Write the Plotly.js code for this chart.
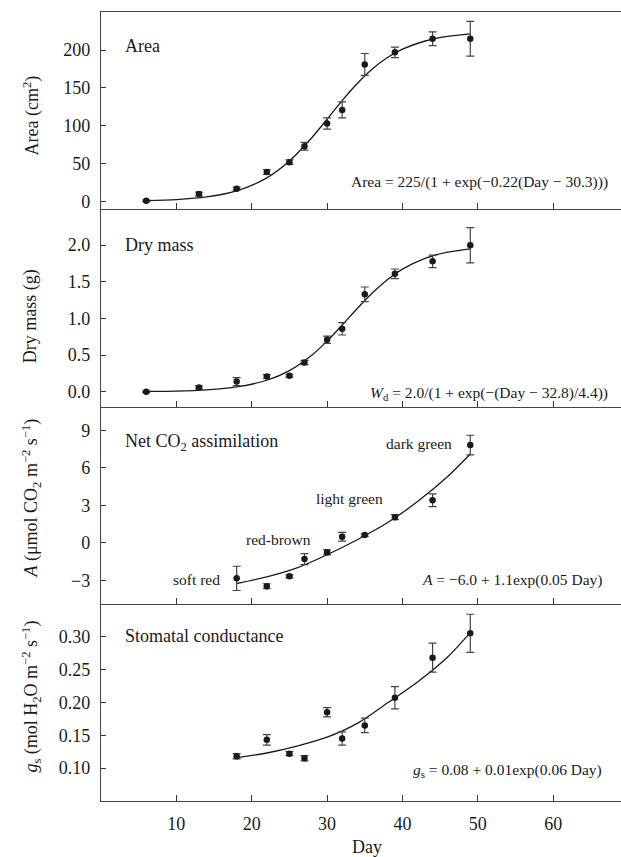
<!DOCTYPE html>
<html>
<head>
<meta charset="utf-8">
<script src="https://cdn.plot.ly/plotly-3.0.1.min.js"></script>
<style>
  html, body { margin: 0; padding: 0; background: #fff; }
  #chart { width: 621px; height: 857px; }
</style>
</head>
<body>
<div id="chart"></div>
<script>
// ---- data ----
const days = [6, 13, 18, 22, 25, 27, 30, 32, 35, 39, 44, 49];
const area = [1, 10, 17, 39, 52, 73, 103, 121, 181, 197, 215, 215];
const areaErr = [1, 2.5, 2, 3.3, 3, 5, 7.5, 10.5, 14.5, 7, 9, 23];
const dryMass = [0.0, 0.06, 0.14, 0.21, 0.22, 0.40, 0.71, 0.86, 1.33, 1.61, 1.78, 2.00];
const dryMassErr = [0.01, 0.02, 0.055, 0.025, 0.02, 0.03, 0.05, 0.085, 0.1, 0.065, 0.085, 0.24];

const daysGas = [18, 22, 25, 27, 30, 32, 35, 39, 44, 49];
const netA = [-2.84, -3.47, -2.68, -1.3, -0.76, 0.48, 0.62, 2.05, 3.4, 7.82];
const netAErr = [0.97, 0.2, 0.12, 0.44, 0.2, 0.35, 0.1, 0.2, 0.51, 0.78];
const gs = [0.118, 0.143, 0.122, 0.115, 0.185, 0.145, 0.165, 0.207, 0.268, 0.305];
const gsErr = [0.004, 0.008, 0.003, 0.004, 0.007, 0.010, 0.011, 0.017, 0.022, 0.029];

// fitted curves
const fitDays = [6, 10, 14, 18, 22, 25, 28, 30, 32, 34, 36, 38, 40, 43, 46, 49];
const areaFit = [1.1, 2.6, 6.1, 14.1, 31.2, 53.5, 84.6, 108.8, 133.3, 155.9, 175.1, 190.1, 201.2, 212.0, 218.1, 221.4];
const dryMassFit = [0.005, 0.011, 0.028, 0.067, 0.158, 0.29, 0.503, 0.692, 0.909, 1.136, 1.348, 1.53, 1.673, 1.821, 1.905, 1.951];
const fitDaysGas = [18, 22, 26, 30, 34, 38, 42, 46, 49];
const netAFit = [-3.25, -2.72, -2.0, -0.95, 0.25, 1.6, 3.3, 5.3, 7.1];
const gsFit = [0.116, 0.123, 0.1335, 0.147, 0.168, 0.199, 0.231, 0.269, 0.306];

// tick labels
const dayTicks = [10, 20, 30, 40, 50, 60];
const areaTicks = [0, 50, 100, 150, 200];
const dryTicks = [0, 0.5, 1.0, 1.5, 2.0];
const netTicks = [-3, 0, 3, 6, 9];
const gsTicks = [0.10, 0.15, 0.20, 0.25, 0.30];

// ---- drawing ----
const FONT = 'Liberation Serif, Times New Roman, serif';
const INK = '#1a1a1a';

function curve(x, y, n) {
  return { x: x, y: y, xaxis: 'x' + (n === 1 ? '' : n), yaxis: 'y' + (n === 1 ? '' : n),
    type: 'scatter', mode: 'lines', line: { color: INK, width: 1.3, shape: 'spline', smoothing: 0.8 },
    hoverinfo: 'skip', showlegend: false };
}
function pts(x, y, e, n) {
  return { x: x, y: y, xaxis: 'x' + (n === 1 ? '' : n), yaxis: 'y' + (n === 1 ? '' : n),
    type: 'scatter', mode: 'markers', marker: { color: INK, size: 6.5 },
    error_y: { type: 'data', array: e, visible: true, color: '#444', thickness: 1.2, width: 4 },
    showlegend: false };
}

const data = [
  curve(fitDays, areaFit, 1), pts(days, area, areaErr, 1),
  curve(fitDays, dryMassFit, 2), pts(days, dryMass, dryMassErr, 2),
  curve(fitDaysGas, netAFit, 3), pts(daysGas, netA, netAErr, 3),
  curve(fitDaysGas, gsFit, 4), pts(daysGas, gs, gsErr, 4)
];

function xax(anchor, labels, extra) {
  return Object.assign({
    anchor: anchor, range: [0, 69], tickvals: dayTicks, ticks: 'inside', ticklen: 6,
    tickcolor: '#333', tickwidth: 1, showline: true, linecolor: '#444', linewidth: 1.2,
    showgrid: false, zeroline: false, showticklabels: labels, ticklabelstandoff: 6,
    tickfont: { family: FONT, size: 18, color: INK }, fixedrange: true
  }, extra || {});
}
function yax(anchor, domain, range, ticks, fmt) {
  return {
    anchor: anchor, domain: domain, range: range, tickvals: ticks, tickformat: fmt,
    ticks: 'inside', ticklen: 5, tickcolor: '#333', tickwidth: 1, showline: true,
    linecolor: '#444', linewidth: 1.2, showgrid: false, zeroline: false, ticklabelstandoff: 6,
    tickfont: { family: FONT, size: 18, color: INK }, fixedrange: true
  };
}

function ann(text, x, y, opts) {
  return Object.assign({ text: text, x: x, y: y, xref: 'paper', yref: 'paper', showarrow: false,
    xanchor: 'left', yanchor: 'middle', font: { family: FONT, size: 18, color: INK } }, opts || {});
}
const eqFont = { family: FONT, size: 15.5, color: INK };
const stFont = { family: FONT, size: 15.5, color: INK };
const ytFont = { family: FONT, size: 18, color: INK };

const annotations = [
  ann('Area', 0.0417, 0.9564),
  ann('Dry mass', 0.0417, 0.705),
  ann('Net CO<sub>2</sub> assimilation', 0.0417, 0.455),
  ann('Stomatal conductance', 0.0417, 0.2092),
  ann('Area = 225/(1 + exp(−0.22(Day − 30.3)))', 0.979, 0.784, { xanchor: 'right', font: eqFont }),
  ann('<i>W</i><sub>d</sub> = 2.0/(1 + exp(−(Day − 32.8)/4.4))', 0.979, 0.516, { xanchor: 'right', font: eqFont }),
  ann('<i>A</i> = −6.0 + 1.1exp(0.05 Day)', 0.967, 0.2802, { xanchor: 'right', font: eqFont }),
  ann('<i>g</i><sub>s</sub> = 0.08 + 0.01exp(0.06 Day)', 0.967, 0.039, { xanchor: 'right', font: eqFont }),
  ann('soft red', 0.1832, 0.2802, { xanchor: 'center', font: stFont }),
  ann('red-brown', 0.341, 0.331, { xanchor: 'center', font: stFont }),
  ann('light green', 0.4786, 0.3829, { xanchor: 'center', font: stFont }),
  ann('dark green', 0.6123, 0.4527, { xanchor: 'center', font: stFont }),
  ann('Area (cm<sup>2</sup>)', -0.1333, 0.8685, { xanchor: 'center', textangle: -90, font: ytFont }),
  ann('Dry mass (g)', -0.1352, 0.614, { xanchor: 'center', textangle: -90, font: ytFont }),
  ann('<i>A</i> (μmol CO<sub>2</sub> m<sup>−2</sup> s<sup>−1</sup>)', -0.1333, 0.3842, { xanchor: 'center', textangle: -90, font: ytFont }),
  ann('<i>g</i><sub>s</sub> (mol H<sub>2</sub>O m<sup>−2</sup> s<sup>−1</sup>)', -0.1333, 0.1319, { xanchor: 'center', textangle: -90, font: ytFont }),
  ann('Day', 0.511, -0.058, { xanchor: 'center', font: ytFont })
];

const layout = {
  width: 621, height: 857,
  margin: { l: 101.3, r: 0, t: 12.3, b: 56, pad: 0 },
  paper_bgcolor: '#fff', plot_bgcolor: '#fff',
  font: { family: FONT, size: 18, color: INK },
  showlegend: false,
  xaxis: xax('y', false, { mirror: true }),
  xaxis2: xax('y2', false),
  xaxis3: xax('y3', false),
  xaxis4: xax('y4', true),
  yaxis: yax('x', [0.75, 1], [-10.2, 250.3], areaTicks, ''),
  yaxis2: yax('x2', [0.5, 0.75], [-0.2, 2.49], dryTicks, '.1f'),
  yaxis3: yax('x3', [0.25, 0.5], [-4.87, 10.9], netTicks, ''),
  yaxis4: yax('x4', [0, 0.25], [0.05, 0.35], gsTicks, '.2f'),
  annotations: annotations
};

Plotly.newPlot('chart', data, layout, { staticPlot: true, displayModeBar: false });
</script>
</body>
</html>
